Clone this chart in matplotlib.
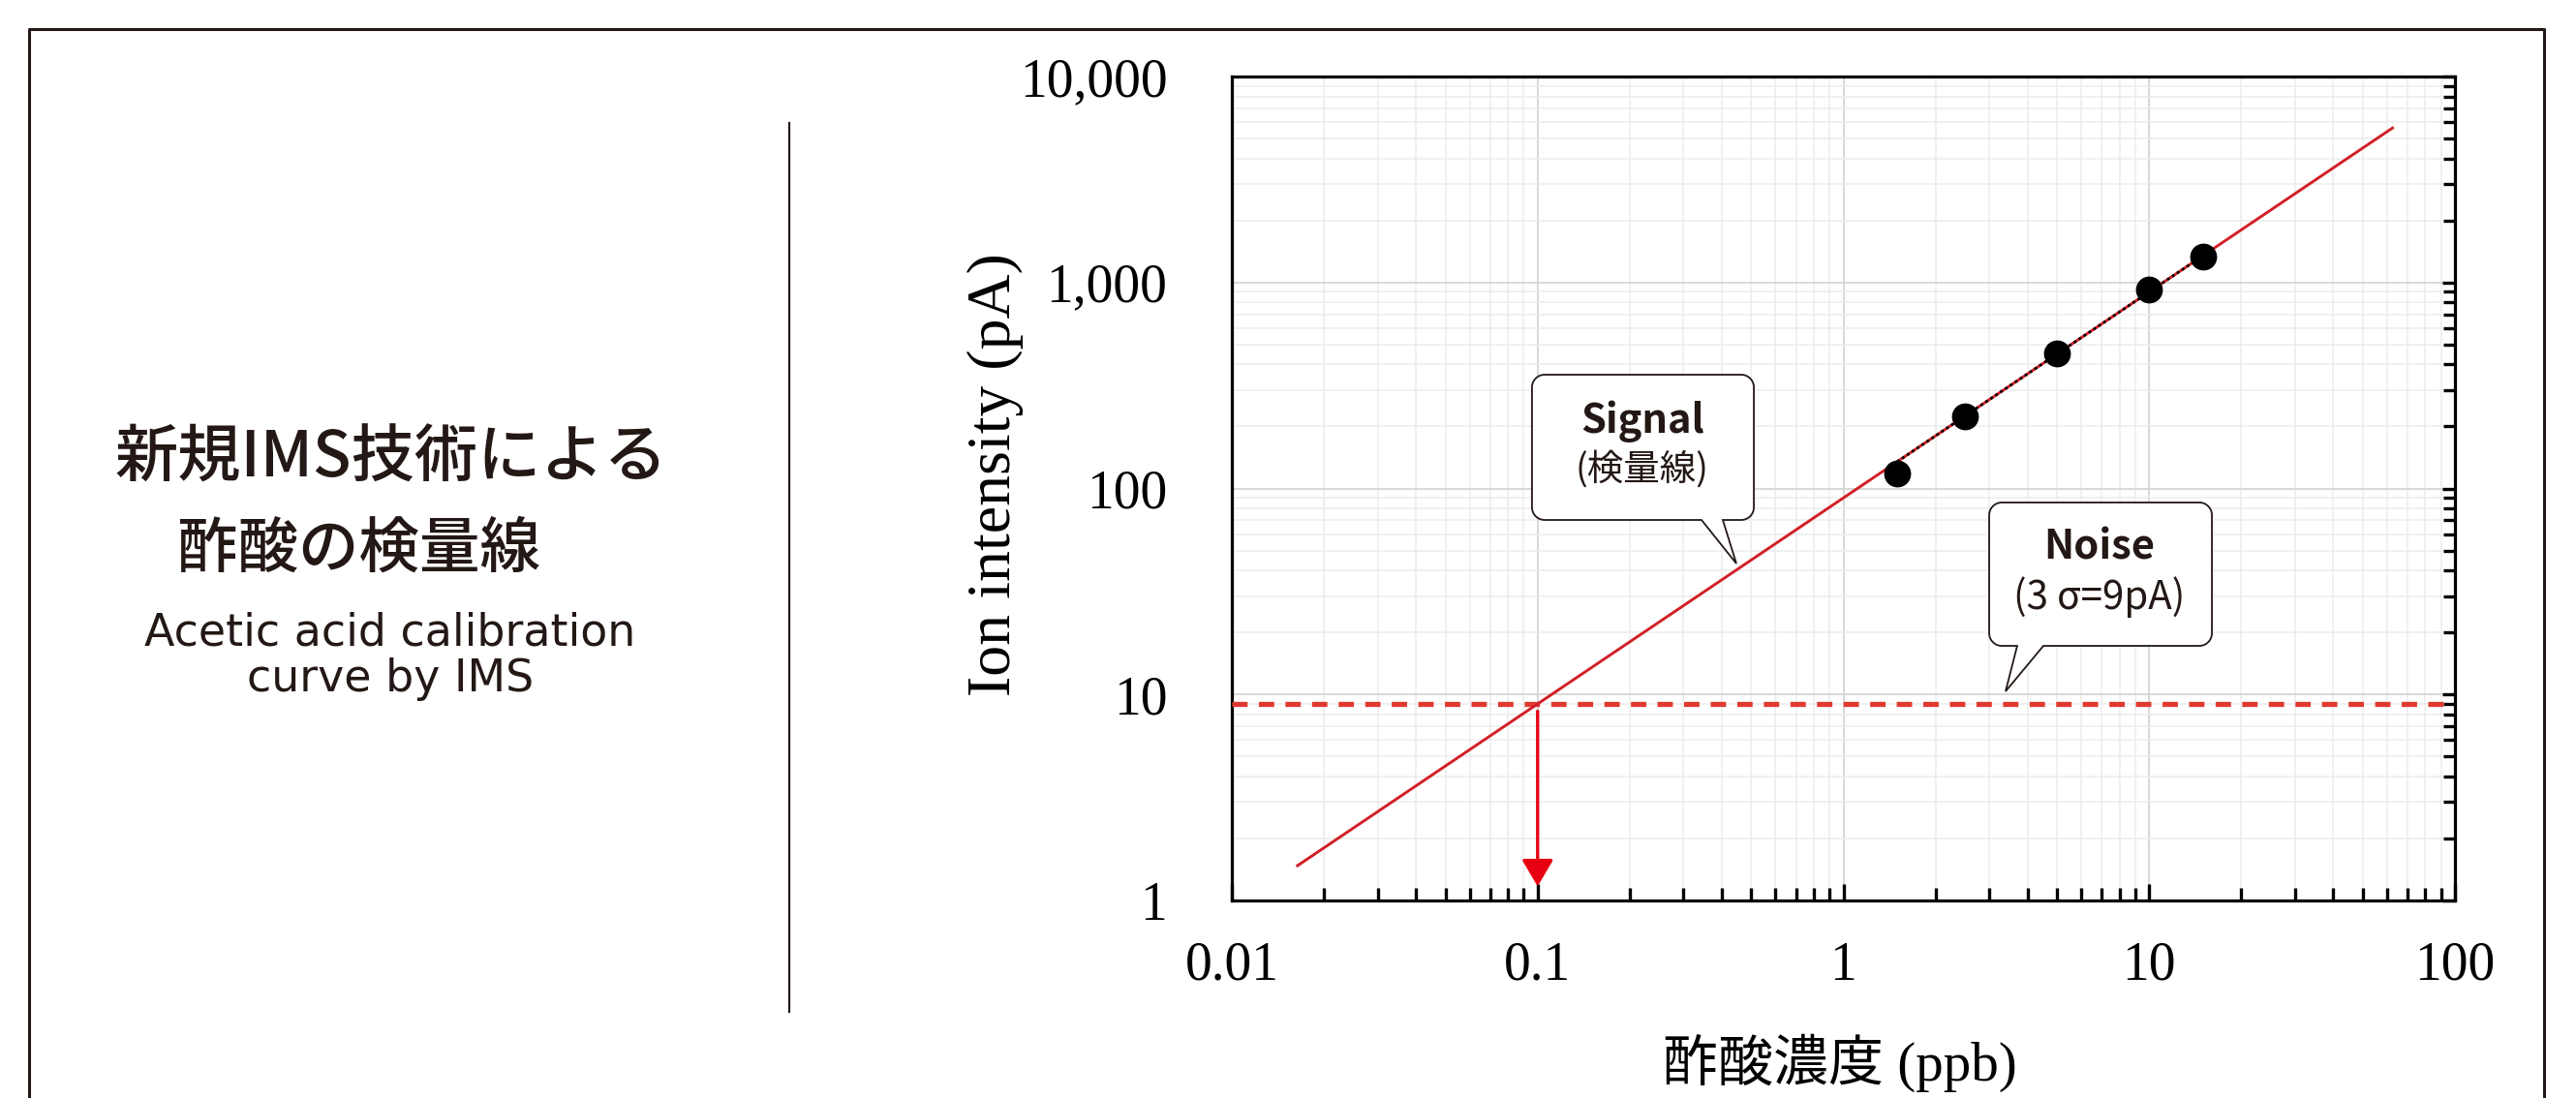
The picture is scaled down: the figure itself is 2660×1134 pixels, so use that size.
import numpy as np
import matplotlib
matplotlib.use("Agg")
import matplotlib.pyplot as plt
from matplotlib.patches import Polygon
from matplotlib.transforms import IdentityTransform
from matplotlib.ticker import FixedLocator, FixedFormatter, LogLocator, NullFormatter

# ---------------- data ----------------
conc_ppb = [1.5, 2.5, 5, 10, 15]            # 酢酸濃度 (ppb)
intensity_pA = [118, 225, 455, 920, 1330]   # Ion intensity (pA)
fit_x = [0.0164, 62.5]                      # calibration line ends
fit_y = [1.476, 5625]
trend_x = [1.5, 15]
trend_y = [135, 1350]
noise_level = 9                             # 3σ = 9 pA
lod_x = 0.1
lod_arrow_y = [8.3, 1.17]
x_ticks = [0.01, 0.1, 1, 10, 100]
x_ticklabels = ["0.01", "0.1", "1", "10", "100"]
y_ticks = [1, 10, 100, 1000, 10000]
y_ticklabels = ["1", "10", "100", "1,000", "10,000"]

W, H = 2660, 1134
DPI = 100
INK = "#231815"
CJK = "Noto Sans CJK JP"
SERIF = ["Liberation Serif", "Noto Sans CJK JP"]

plt.rcParams["font.family"] = [CJK, "DejaVu Sans"]

fig = plt.figure(figsize=(W / DPI, H / DPI), dpi=DPI, facecolor="white")

def px(x, y):
    """top-origin pixel -> figure fraction"""
    return x / W, 1 - y / H

# outer frame (left, top, right)
fx0, fy0 = px(30, 30)
fx1, _ = px(2627, 30)
fig.add_artist(plt.Line2D([fx0, fx0, fx1, fx1], [0, fy0, fy0, 0],
                          color=INK, lw=2.2, transform=fig.transFigure))
# divider
dx, dy0 = px(815, 127)
_, dy1 = px(815, 1045)
fig.add_artist(plt.Line2D([dx, dx], [dy0, dy1], color=INK, lw=1.6,
                          transform=fig.transFigure))

# left titles
fig.text(*px(118, 474), "新規IMS技術による", ha="left", va="center",
         fontsize=47, color=INK, family=[CJK], weight="medium")
fig.text(*px(183, 568), "酢酸の検量線", ha="left", va="center",
         fontsize=45, color=INK, family=[CJK], weight="medium")
fig.text(*px(403, 654), "Acetic acid calibration", ha="center", va="center",
         fontsize=33, color=INK, family=["DejaVu Sans"])
fig.text(*px(403, 701), "curve by IMS", ha="center", va="center",
         fontsize=33, color=INK, family=["DejaVu Sans"])

# ---------------- axes ----------------
ax_l, ax_r, ax_t, ax_b = 1272, 2535, 79, 930
ax = fig.add_axes([ax_l / W, 1 - ax_b / H, (ax_r - ax_l) / W, (ax_b - ax_t) / H])
ax.set_xscale("log")
ax.set_yscale("log")
ax.set_xlim(0.01, 100)
ax.set_ylim(1, 10000)
ax.set_axisbelow(True)

ax.xaxis.set_major_locator(FixedLocator(x_ticks))
ax.xaxis.set_major_formatter(FixedFormatter(x_ticklabels))
ax.yaxis.set_major_locator(FixedLocator(y_ticks))
ax.yaxis.set_major_formatter(FixedFormatter(y_ticklabels))
ax.xaxis.set_minor_locator(LogLocator(base=10, subs=np.arange(2, 10), numticks=20))
ax.yaxis.set_minor_locator(LogLocator(base=10, subs=np.arange(2, 10), numticks=20))
ax.xaxis.set_minor_formatter(NullFormatter())
ax.yaxis.set_minor_formatter(NullFormatter())

ax.grid(True, which="major", color="#d6d6d6", lw=1.3)
ax.grid(True, which="minor", color="#ececec", lw=1.1)

for s in ax.spines.values():
    s.set_linewidth(2.3)
    s.set_color("black")

ax.tick_params(axis="x", which="both", direction="in", bottom=True, top=False,
               width=2.4, color="black", pad=30, labelsize=40)
ax.tick_params(axis="x", which="major", length=12.5)
ax.tick_params(axis="x", which="minor", length=9.5)
ax.tick_params(axis="y", which="both", direction="in", left=False, right=True,
               labelleft=True, labelright=False, width=2.4, color="black",
               pad=48, labelsize=40)
ax.tick_params(axis="y", which="major", length=9.5)
ax.tick_params(axis="y", which="minor", length=8.5)
for lab in ax.get_xticklabels() + ax.get_yticklabels():
    lab.set_family(SERIF)
    lab.set_color("black")

ax.set_ylabel("Ion intensity (pA)", fontsize=46, family=SERIF, color="black",
              va="center", ha="center")
ax.yaxis.set_label_coords((1028 - ax_l) / (ax_r - ax_l), (ax_b - 490) / (ax_b - ax_t))
ax.set_xlabel("酢酸濃度 (ppb)", fontsize=41, family=SERIF, color="black",
              va="center", ha="center")
ax.xaxis.set_label_coords((1900 - ax_l) / (ax_r - ax_l), (ax_b - 1098) / (ax_b - ax_t))

# noise level
ax.axhline(noise_level, color="#e03a30", lw=3.8, dashes=(3.0, 2.2), zorder=3)
# calibration line
ax.plot(fit_x, fit_y, color="#d21f26", lw=2.1, zorder=4)
ax.plot(trend_x, trend_y, color="black", lw=2.0, ls=(0, (1, 1.2)), zorder=5)
# data
ax.plot(conc_ppb, intensity_pA, "o", color="black", ms=19, zorder=6)
# LOD arrow
ax.annotate("", xy=(lod_x, lod_arrow_y[1]), xytext=(lod_x, lod_arrow_y[0]),
            arrowprops=dict(arrowstyle="-|>,head_length=0.85,head_width=0.5",
                            color="#e60012", lw=2.4, shrinkA=0, shrinkB=0,
                            mutation_scale=20), zorder=7)

# ---------------- callouts ----------------
def axfrac_to_disp(fx, fy):
    return ax.transAxes.transform((fx, fy))

def callout(x0, y0, x1, y1, bx0, bx1, tip, r=13):
    """axes-fraction box (x0,y0 bottom-left; x1,y1 top-right), tail base
    bx0..bx1 on the bottom edge, tip in axes fraction; r in pixels."""
    X0, Y0 = axfrac_to_disp(x0, y0)
    X1, Y1 = axfrac_to_disp(x1, y1)
    B0, _ = axfrac_to_disp(bx0, y0)
    B1, _ = axfrac_to_disp(bx1, y0)
    TX, TY = axfrac_to_disp(*tip)
    def arc(cx, cy, a0, a1):
        t = np.radians(np.linspace(a0, a1, 10))
        return list(zip(cx + r * np.cos(t), cy + r * np.sin(t)))
    pts = [(X0 + r, Y0), (B0, Y0), (TX, TY), (B1, Y0), (X1 - r, Y0)]
    pts += arc(X1 - r, Y0 + r, -90, 0)
    pts += arc(X1 - r, Y1 - r, 0, 90)
    pts += arc(X0 + r, Y1 - r, 90, 180)
    pts += arc(X0 + r, Y0 + r, 180, 270)
    poly = Polygon(pts, closed=True, facecolor="white", edgecolor=INK, lw=1.3,
                   transform=IdentityTransform(), zorder=10)
    fig.add_artist(poly)

callout(0.2454, 0.4618, 0.4268, 0.6381, 0.384, 0.4014, (0.4125, 0.4089))
callout(0.6192, 0.309, 0.8013, 0.483, 0.6421, 0.6635, (0.6326, 0.2538))

fig.text(*px(1696, 435), "Signal", ha="center", va="center", fontsize=30,
         weight="bold", color=INK, family=[CJK], zorder=11)
fig.text(*px(1696, 485), "(検量線)", ha="center", va="center", fontsize=27,
         color=INK, family=[CJK], zorder=11)
fig.text(*px(2168, 565), "Noise", ha="center", va="center", fontsize=30,
         weight="bold", color=INK, family=[CJK], zorder=11)
fig.text(*px(2168, 617), "(3 σ=9pA)", ha="center", va="center", fontsize=29,
         color=INK, family=[CJK], zorder=11)

fig.savefig("out.png", dpi=DPI, facecolor="white")
